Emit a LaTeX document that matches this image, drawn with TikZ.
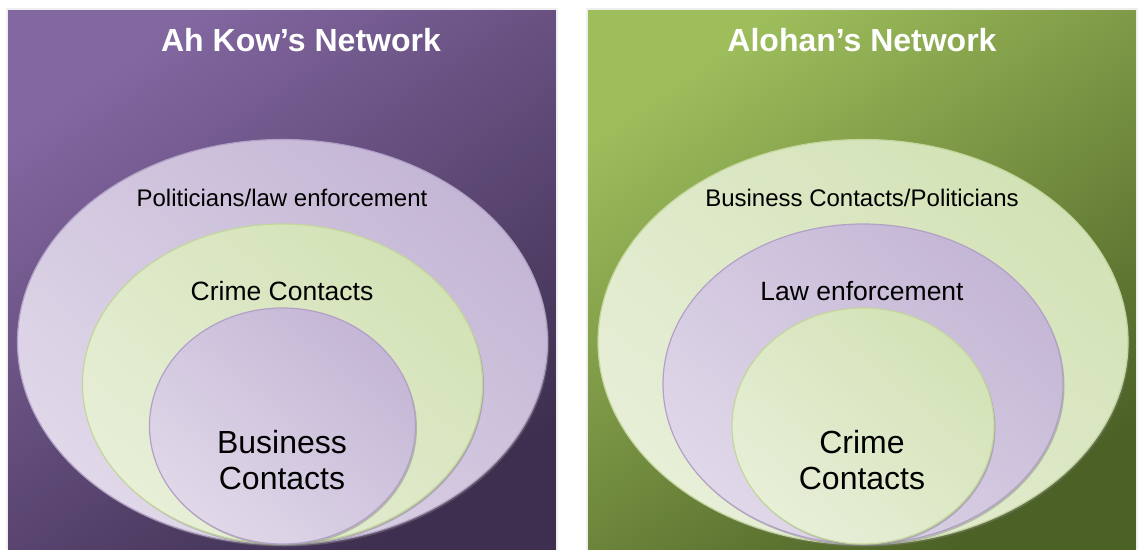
\documentclass[tikz,border=0pt]{standalone}
\usepackage{fontspec}
\setmainfont{Liberation Sans}
\usepackage{tikz}
\usetikzlibrary{shapes.geometric}
\usetikzlibrary{shadows}
\definecolor{pl}{RGB}{131, 103, 161}
\definecolor{pd}{RGB}{62, 47, 80}
\definecolor{gl}{RGB}{158, 190, 92}
\definecolor{gd}{RGB}{76, 97, 38}
\definecolor{ppale}{RGB}{231, 225, 238}
\definecolor{pmid}{RGB}{196, 182, 213}
\definecolor{pedge}{RGB}{178, 161, 199}
\definecolor{gpale}{RGB}{236, 242, 224}
\definecolor{gmid}{RGB}{211, 226, 182}
\definecolor{gedge}{RGB}{195, 214, 155}
\definecolor{frame}{RGB}{238, 238, 238}
\tikzset{
  panel/.style={draw=frame, line width=2pt},
  ring/.style={ellipse, inner sep=0pt, line width=1.2pt, drop shadow={opacity=0.45, shadow xshift=1.5pt, shadow yshift=-2pt}},
  pring/.style={ring, draw=pedge, shading=axis, top color=pmid, middle color=ppale, bottom color=ppale!80!pmid, shading angle=-40},
  gring/.style={ring, draw=gedge, shading=axis, top color=gmid, middle color=gpale, bottom color=gpale!80!gmid, shading angle=-40},
  title/.style={text=white, font=\fontsize{32}{36}\selectfont\bfseries},
  lbl/.style={font=\fontsize{24}{28}\selectfont},
  lblb/.style={font=\fontsize{26.5}{30}\selectfont},
  core/.style={font=\fontsize{32}{36}\selectfont, align=center}
}
\begin{document}
\begin{tikzpicture}
\useasboundingbox (0pt, 0pt) rectangle (1138pt, -549pt);
% left panel
\shade [panel, top color=pl, bottom color=pd, shading angle=35] (7pt, -9pt) rectangle (557pt, -552pt);
\node (ako) [title] at (301pt, -40pt) {Ah Kow’s Network};
\node (a1) [pring, minimum width=530pt, minimum height=405pt] at (282.5pt, -342pt) {};
\node (a2) [gring, minimum width=400pt, minimum height=320pt] at (282.5pt, -384pt) {};
\node (a3) [pring, minimum width=266pt, minimum height=236pt] at (282.5pt, -426pt) {};
\node (a1t) [lbl] at (282pt, -198pt) {Politicians/law enforcement};
\node (a2t) [lblb] at (282pt, -291pt) {Crime Contacts};
\node (a3t) [core] at (282pt, -460pt) {Business\\Contacts};
% right panel
\shade [panel, top color=gl, bottom color=gd, shading angle=35] (587pt, -9pt) rectangle (1137pt, -552pt);
\node (alo) [title] at (862pt, -40pt) {Alohan’s Network};
\node (b1) [gring, minimum width=530pt, minimum height=405pt] at (863pt, -342pt) {};
\node (b2) [pring, minimum width=400pt, minimum height=320pt] at (863pt, -384pt) {};
\node (b3) [gring, minimum width=262pt, minimum height=236pt] at (863pt, -426pt) {};
\node (b1t) [lbl] at (862pt, -198pt) {Business Contacts/Politicians};
\node (b2t) [lblb] at (862pt, -291pt) {Law enforcement};
\node (b3t) [core] at (862pt, -460pt) {Crime\\Contacts};
\end{tikzpicture}
\end{document}
